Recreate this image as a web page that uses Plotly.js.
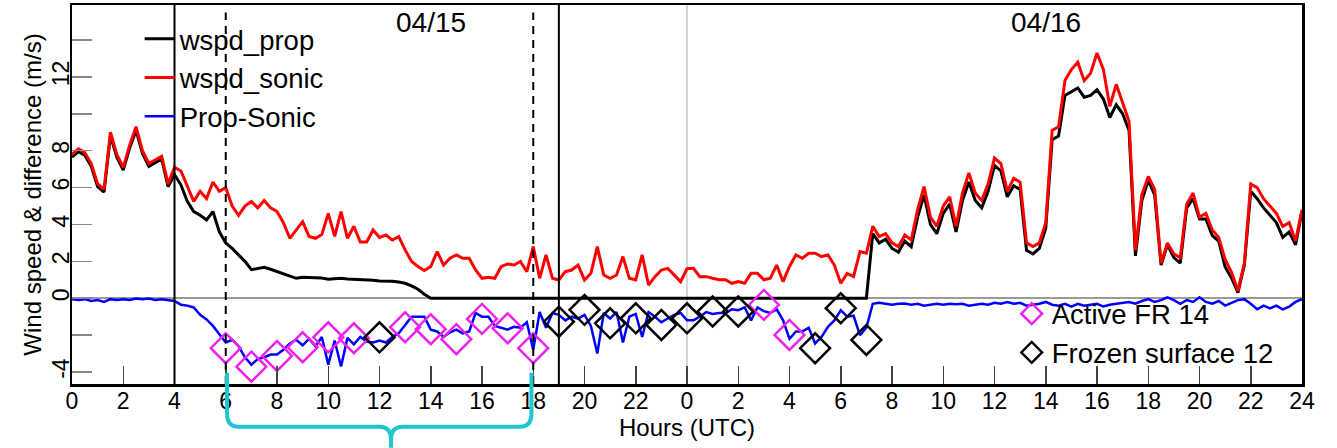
<!DOCTYPE html>
<html>
<head>
<meta charset="utf-8">
<script src="https://cdn.plot.ly/plotly-3.0.1.min.js"></script>
<style>
  html, body { margin: 0; padding: 0; background: #ffffff; }
  #chart { width: 1337px; height: 448px; }
</style>
</head>
<body>
<div id="chart"></div>
<script>
// ---------------- DATA ----------------
// Time grid: hours since 00 UTC on 04/15, sampled every 0.25 h (0 .. 48)
const stepHours = 0.25;

// wspd_sonic (m/s)
const wspdSonic = [
  // 0 - 4 h
  7.8, 8.1, 7.9, 7.3, 6.2, 5.9, 9.0, 7.8, 7.1, 8.3, 9.3, 8.0, 7.3, 7.5, 7.7, 6.2, 7.1,
  // 4.25 - 12 h
  6.9, 6.05, 5.25, 5.8, 5.4, 6.3, 5.8, 6.0, 5.0, 4.5, 5.0, 5.25, 4.9, 5.3, 4.9, 4.7,
  4.1, 3.25, 3.7, 4.15, 3.35, 3.25, 3.45, 4.6, 3.35, 4.7, 3.25, 3.9, 3.05, 3.05, 3.7, 3.3,
  // 12.25 - 24 h
  3.43, 3.16, 3.34, 2.62, 2.0, 1.72, 1.5, 1.72, 2.53, 1.8, 2.17, 2.35, 2.17, 2.17, 1.53, 1.08,
  1.14, 1.08, 1.72, 1.86, 1.8, 1.99, 1.44, 2.8, 1.08, 2.35, 1.08, 0.99, 1.44, 1.53, 1.8, 0.99,
  1.35, 2.8, 1.26, 1.08, 1.26, 2.26, 1.08, 0.99, 2.35, 0.72, 1.17, 1.53, 1.62, 1.26, 0.9, 1.6,
  // 24.25 - 31 h
  1.62, 1.17, 1.17, 1.08, 1.0, 1.0, 0.81, 0.9, 0.81, 1.35, 1.35, 1.0, 1.08, 1.8,
  0.9, 1.72, 2.35, 2.17, 2.44, 2.44, 2.26, 2.35, 1.8, 0.81, 1.35, 1.17, 2.53, 2.44,
  // 31.25 - 48 h
  3.9, 3.34, 3.5, 3.0, 2.8, 3.43, 3.16, 4.8, 6.05, 4.4, 3.9, 5.0, 5.5, 3.9, 5.7, 6.8,
  5.7, 5.3, 6.2, 7.6, 7.3, 5.8, 6.5, 6.3, 3.0, 2.8, 3.0, 4.1, 9.1, 9.3, 11.8, 12.4,
  12.8, 11.8, 12.2, 13.3, 12.4, 10.4, 11.6, 10.6, 9.6, 2.6, 5.6, 6.6, 5.9, 1.9, 3.0, 2.4,
  2.2, 5.1, 5.7, 4.4, 4.6, 3.7, 3.3, 2.1, 1.4, 0.4, 1.9, 6.2, 6.0, 5.4, 5.0, 4.6,
  3.9, 4.1, 3.1, 4.8
];

// wspd_prop (m/s)
const wspdProp = [
  // 0 - 4 h
  7.65, 7.95, 7.75, 7.15, 6.05, 5.75, 8.8, 7.65, 6.95, 8.15, 9.1, 7.85, 7.15, 7.35, 7.55, 6.05, 6.7,
  // 4.25 - 12 h
  6.15, 5.25, 4.7, 4.5, 4.25, 4.7, 3.6, 3.0, 2.7, 2.35, 2.0, 1.55, 1.6, 1.68, 1.57, 1.45,
  1.32, 1.17, 1.08, 1.14, 1.12, 1.14, 1.1, 1.03, 1.06, 1.08, 1.05, 1.03, 1.04, 1.03, 0.98, 0.94,
  // 12.25 - 13.75 h
  0.95, 0.92, 0.88, 0.81, 0.67, 0.49, 0.22,
  // 14 - 31 h (propeller stopped)
  0, 0, 0, 0, 0, 0, 0, 0, 0, 0, 0, 0, 0, 0, 0, 0, 0, 0, 0, 0, 0, 0, 0,
  0, 0, 0, 0, 0, 0, 0, 0, 0, 0, 0, 0, 0, 0, 0, 0, 0, 0, 0, 0, 0, 0, 0,
  0, 0, 0, 0, 0, 0, 0, 0, 0, 0, 0, 0, 0, 0, 0, 0, 0, 0, 0, 0, 0, 0, 0,
  // 31.25 - 48 h
  3.5, 3.0, 3.2, 2.7, 2.5, 3.1, 2.8, 4.4, 5.6, 4.0, 3.5, 4.6, 5.1, 3.6, 5.3, 6.3,
  5.3, 4.9, 5.8, 7.2, 6.9, 5.5, 6.1, 5.9, 2.6, 2.4, 2.7, 3.8, 8.6, 8.8, 11.0, 11.2,
  11.4, 10.9, 11.0, 11.3, 10.8, 9.8, 10.5, 10.0, 9.1, 2.3, 5.3, 6.4, 5.6, 1.8, 2.9, 2.2,
  1.9, 4.9, 5.4, 4.3, 4.3, 3.4, 3.1, 1.7, 1.1, 0.3, 1.8, 5.8, 5.4, 4.9, 4.5, 4.1,
  3.3, 3.6, 2.9, 4.7
];

// Prop-Sonic difference (m/s)
const propMinusSonic = [
  // 0 - 4 h
  -0.05, -0.1, -0.05, -0.15, -0.1, -0.2, -0.05, -0.1, -0.05, -0.1, -0.02, -0.05, -0.02, -0.1, -0.05, -0.1, -0.15,
  // 4.25 - 12 h
  -0.35, -0.4, -0.5, -0.9, -1.15, -1.5, -1.95, -2.4, -2.25, -2.6, -3.2, -3.6, -3.3, -3.2, -3.05, -3.05,
  -2.8, -2.45, -2.25, -2.55, -2.2, -2.6, -2.1, -3.6, -2.3, -3.7, -2.15, -2.5, -2.1, -2.35, -2.4, -2.3,
  // 12.25 - 24 h
  -2.4, -2.1, -1.9, -1.45, -1.0, -1.0, -1.0, -1.7, -1.8, -2.1, -1.85, -1.7, -1.9, -1.8, -0.8, -1.0,
  -1.0, -1.5, -1.6, -1.7, -1.55, -1.6, -1.3, -2.8, -0.75, -1.6, -0.8, -0.9, -1.2, -1.0, -1.1, -0.9,
  -1.5, -3.0, -0.8, -1.1, -0.75, -2.4, -1.0, -0.85, -2.1, -0.75, -1.0, -1.3, -1.1, -0.9, -0.8, -1.2,
  // 24.25 - 31 h
  -1.2, -1.0, -0.75, -0.85, -0.8, -0.8, -0.6, -0.65, -0.5, -1.2, -0.5, -0.7, -0.8, -0.6,
  -1.2, -2.2, -1.8, -1.8, -1.6, -2.45, -2.1, -1.55, -1.2, -0.65, -1.0, -0.95, -2.0, -1.6,
  // 31.25 - 48 h
  -0.3, -0.25, -0.3, -0.35, -0.3, -0.28, -0.35, -0.3, -0.4, -0.35, -0.3, -0.35, -0.3, -0.32, -0.3, -0.4,
  -0.35, -0.3, -0.35, -0.25, -0.3, -0.2, -0.3, -0.25, -0.4, -0.35, -0.3, -0.2, -0.35, -0.4, -0.3, -0.45,
  -0.3, -0.4, -0.35, -0.3, -0.45, -0.35, -0.3, -0.25, -0.2, -0.3, -0.15, -0.05, -0.2, -0.1, 0.05, -0.1,
  -0.3, -0.1, -0.2, 0.05, -0.2, -0.3, -0.15, -0.4, -0.25, -0.1, -0.05, -0.3, -0.6, -0.4, -0.55, -0.4,
  -0.6, -0.45, -0.2, -0.05
];

// Hourly flags (hours since 00 UTC 04/15) and the difference value at each flag
const activeHours  = [6, 7, 8, 9, 10, 11, 13, 14, 15, 16, 17, 18, 27, 28];
const activeValues = [-2.71, -3.71, -3.13, -2.66, -2.12, -2.17, -1.57, -1.68, -2.22, -1.12, -1.63, -2.71, -0.36, -1.99];
const frozenHours  = [12, 19, 20, 21, 22, 23, 24, 25, 26, 29, 30, 31];
const frozenValues = [-2.12, -1.27, -0.63, -1.36, -1.09, -1.45, -1.09, -0.72, -0.72, -2.71, -0.54, -2.26];

// Axis ticks
const xTickVals  = [0,2,4,6,8,10,12,14,16,18,20,22,24,26,28,30,32,34,36,38,40,42,44,46,48];
const xTickText  = ['0','2','4','6','8','10','12','14','16','18','20','22','0','2','4','6','8','10','12','14','16','18','20','22','24'];
const yTickVals  = [-4,-2,0,2,4,6,8,10,12,14];
const yTickText  = ['-4','','0','2','4','6','8','','12',''];

// Day labels and reference lines (hours)
const dayLabels     = [{h: 14, text: '04/15'}, {h: 38, text: '04/16'}];
const solidLines    = [4, 19];
const dashedLines   = [6, 18];
const midnightLines = [24];
const bracketSpan   = [6.05, 12.45, 17.93]; // left, tip, right (hours)

// ---------------- BUILD ----------------
const hours = wspdSonic.map((_, i) => i * stepHours);

const traces = [
  {x: hours, y: wspdProp, type: 'scatter', mode: 'lines', name: 'wspd_prop',
   line: {color: '#000000', width: 3}, legend: 'legend'},
  {x: hours, y: wspdSonic, type: 'scatter', mode: 'lines', name: 'wspd_sonic',
   line: {color: '#ff0000', width: 3}, legend: 'legend'},
  {x: hours, y: propMinusSonic, type: 'scatter', mode: 'lines', name: 'Prop-Sonic',
   line: {color: '#0000ff', width: 2.5}, legend: 'legend'},
  {x: activeHours, y: activeValues, type: 'scatter', mode: 'markers', name: 'Active FR 14',
   marker: {symbol: 'diamond-open', size: 23, color: '#ee22ee', line: {width: 2.5, color: '#ee22ee'}},
   legend: 'legend2'},
  {x: frozenHours, y: frozenValues, type: 'scatter', mode: 'markers', name: 'Frozen surface 12',
   marker: {symbol: 'diamond-open', size: 23, color: '#000000', line: {width: 2.5, color: '#000000'}},
   legend: 'legend2'}
];

const shapes = [];
midnightLines.forEach(h => shapes.push({type: 'line', xref: 'x', yref: 'paper', x0: h, x1: h, y0: 0, y1: 1,
  line: {color: '#c8c8c8', width: 1.5}, layer: 'below'}));
solidLines.forEach(h => shapes.push({type: 'line', xref: 'x', yref: 'paper', x0: h, x1: h, y0: 0, y1: 1,
  line: {color: '#000000', width: 2}}));
dashedLines.forEach(h => shapes.push({type: 'line', xref: 'x', yref: 'paper', x0: h, x1: h, y0: 0, y1: 0.98,
  line: {color: '#000000', width: 2, dash: '8px,6px'}}));

// cyan curly bracket under the 6-18 h window (paper coordinates)
const px = h => h / 48;
const [bl, bt, br] = bracketSpan;
const yTop = 0.03, yBar = -0.113, yTip = -0.168, r = 0.035, rx = 0.45;
const bracketPath =
  `M ${px(bl)},${yTop} L ${px(bl)},${yBar + r} Q ${px(bl)},${yBar} ${px(bl + rx)},${yBar} ` +
  `L ${px(bt - rx)},${yBar} Q ${px(bt)},${yBar} ${px(bt)},${yBar - r} L ${px(bt)},${yTip} ` +
  `M ${px(bt)},${yBar - r} Q ${px(bt)},${yBar} ${px(bt + rx)},${yBar} ` +
  `L ${px(br - rx)},${yBar} Q ${px(br)},${yBar} ${px(br)},${yBar + r} L ${px(br)},${yTop}`;
shapes.push({type: 'path', xref: 'paper', yref: 'paper', path: bracketPath,
  line: {color: '#1fc6d0', width: 4}});

const annotations = dayLabels.map(d => ({
  x: d.h, y: 0.955, xref: 'x', yref: 'paper', text: d.text, showarrow: false,
  xanchor: 'center', yanchor: 'middle', font: {size: 28, color: '#000'}
}));

const layout = {
  width: 1337, height: 448,
  margin: {l: 72, r: 35, t: 5, b: 64},
  paper_bgcolor: '#ffffff', plot_bgcolor: '#ffffff',
  font: {family: '"Liberation Sans", Arial, sans-serif', color: '#000000'},
  showlegend: true,
  xaxis: {
    range: [0, 48], tickmode: 'array', tickvals: xTickVals, ticktext: xTickText,
    ticks: 'inside', ticklen: 18, tickwidth: 1.5, tickcolor: '#444444',
    ticklabelstandoff: -5,
    showline: true, mirror: true, linecolor: '#000000', linewidth: 2.5,
    showgrid: false, zeroline: false, tickfont: {size: 23},
    title: {text: 'Hours (UTC)', font: {size: 24}, standoff: 2}
  },
  yaxis: {
    range: [-4.65, 15.9], tickmode: 'array', tickvals: yTickVals, ticktext: yTickText,
    ticks: 'inside', ticklen: 20, tickwidth: 1.5, tickcolor: '#888888', tickangle: -90,
    ticklabelstandoff: -9,
    showline: true, mirror: true, linecolor: '#000000', linewidth: 2.5,
    showgrid: false, zeroline: true, zerolinecolor: '#9a9a9a', zerolinewidth: 1.5,
    tickfont: {size: 23}, automargin: true,
    title: {text: 'Wind speed & difference (m/s)', font: {size: 24}, standoff: 0}
  },
  legend: {
    x: 0.055, y: 0.975, xanchor: 'left', yanchor: 'top',
    bgcolor: 'rgba(0,0,0,0)', borderwidth: 0, font: {size: 27.5}, tracegroupgap: 0
  },
  legend2: {
    x: 0.764, y: 0.25, xanchor: 'left', yanchor: 'top',
    bgcolor: 'rgba(0,0,0,0)', borderwidth: 0, font: {size: 27.5}, tracegroupgap: 0
  },
  shapes: shapes,
  annotations: annotations
};

Plotly.newPlot('chart', traces, layout, {displayModeBar: false, staticPlot: true});
</script>
</body>
</html>
